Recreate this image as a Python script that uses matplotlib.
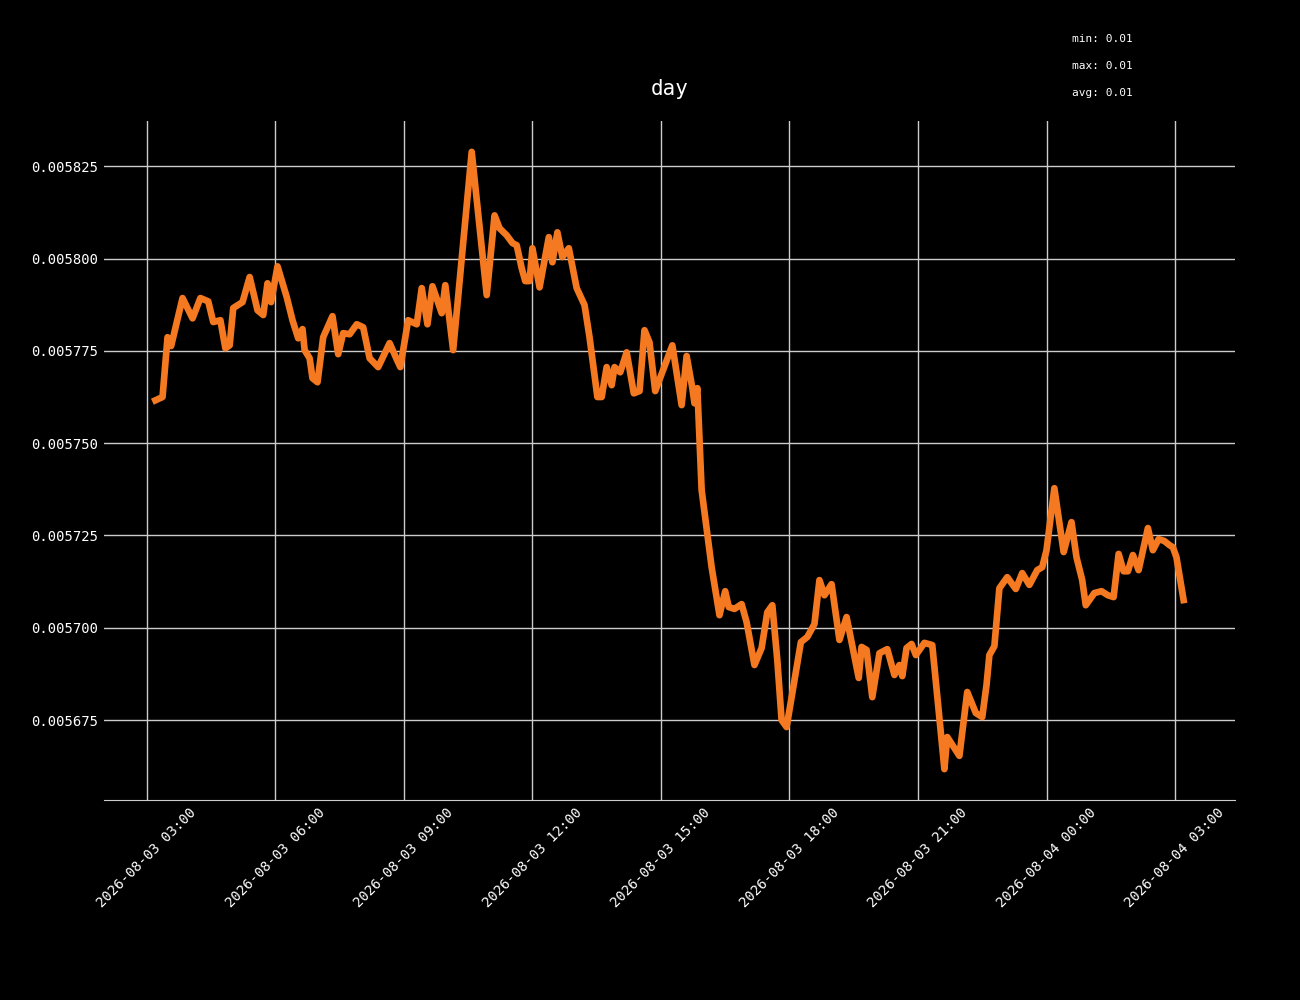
import matplotlib
matplotlib.use('Agg')
import matplotlib.pyplot as plt
import matplotlib.dates as mdates
from matplotlib.ticker import MultipleLocator, FormatStrFormatter
import pandas as pd

start = pd.Timestamp('2026-08-03 03:12')

# minutes after start, price
minutes = [0, 10, 17, 22, 38, 52, 63, 74, 81, 91, 98, 104, 109, 122, 132, 143, 151, 157, 162, 171,
           184, 192, 200, 206, 209, 216, 220, 227, 235, 248, 256, 263, 272, 282, 291, 300, 312, 328,
           338, 343, 354, 366, 373, 381, 388, 401, 406, 417, 443, 464, 475, 482, 492, 500, 506, 513,
           518, 524, 528, 538, 551, 556, 563, 570, 579, 590, 601, 608, 619, 625, 632, 639, 643, 651,
           660, 670, 678, 685, 692, 700, 724, 737, 744, 752, 755, 759, 765, 779, 790, 798, 803, 811,
           821, 828, 839, 849, 857, 864, 871, 877, 884, 904, 913, 923, 930, 937, 947, 958, 968, 985,
           989, 996, 1004, 1014, 1025, 1035, 1042, 1046, 1052, 1059, 1065, 1077, 1088, 1105, 1109,
           1118, 1126, 1137, 1149, 1158, 1164, 1168, 1175, 1182, 1193, 1205, 1214, 1224, 1235, 1242,
           1248, 1259, 1272, 1283, 1290, 1298, 1303, 1315, 1325, 1334, 1342, 1349, 1356, 1362, 1369,
           1377, 1390, 1397, 1405, 1413, 1420, 1425, 1430, 1440]
prices = [5761.6, 5762.5, 5778.7, 5776.3, 5789.3, 5783.8, 5789.3, 5788.4, 5782.8, 5783.3, 5775.7,
          5776.5, 5786.6, 5788.2, 5795.0, 5786.0, 5784.7, 5793.3, 5788.2, 5797.9, 5789.5, 5783.3,
          5778.4, 5780.9, 5775.2, 5773.0, 5767.6, 5766.5, 5778.7, 5784.4, 5774.1, 5779.8, 5779.5,
          5782.2, 5781.4, 5773.0, 5770.6, 5777.1, 5772.7, 5770.6, 5783.3, 5782.2, 5792.0, 5782.2,
          5792.5, 5785.2, 5792.8, 5775.2, 5828.9, 5790.1, 5811.7, 5808.2, 5806.3, 5804.2, 5803.6,
          5797.4, 5793.9, 5793.9, 5802.8, 5792.2, 5805.8, 5799.0, 5807.1, 5800.4, 5802.8, 5792.0,
          5787.4, 5778.7, 5762.5, 5762.5, 5770.6, 5765.7, 5770.6, 5769.2, 5774.6, 5763.5, 5764.1,
          5780.6, 5777.3, 5764.1, 5776.5, 5760.3, 5773.6, 5764.9, 5760.8, 5764.9, 5737.3, 5716.4,
          5703.4, 5709.9, 5705.6, 5705.1, 5706.4, 5701.5, 5689.9, 5694.5, 5704.2, 5706.1, 5691.2,
          5675.0, 5673.1, 5696.1, 5697.5, 5701.0, 5712.9, 5708.8, 5711.8, 5696.7, 5702.9, 5686.4,
          5694.8, 5694.0, 5681.2, 5693.1, 5694.2, 5687.2, 5689.9, 5686.9, 5694.5, 5695.6, 5692.6,
          5695.9, 5695.3, 5661.7, 5670.4, 5667.7, 5665.3, 5682.6, 5676.9, 5675.8, 5684.5, 5692.6,
          5695.0, 5710.7, 5713.7, 5710.5, 5714.8, 5711.6, 5715.6, 5716.4, 5721.0, 5737.8, 5720.5,
          5728.6, 5719.1, 5712.9, 5706.1, 5709.4, 5709.9, 5708.8, 5708.3, 5720.0, 5715.3, 5715.3,
          5719.7, 5715.6, 5727.0, 5721.0, 5724.0, 5723.5, 5722.4, 5721.8, 5719.1, 5707.5]

times = [start + pd.Timedelta(minutes=m) for m in minutes]
values = [p * 1e-6 for p in prices]

plt.rcParams['font.family'] = 'DejaVu Sans Mono'

fig = plt.figure(figsize=(13, 10), dpi=100, facecolor='black')
ax = fig.add_axes([0.08, 0.2, 0.87, 0.679])
ax.set_facecolor('black')

ax.plot(times, values, color='#f47920', linewidth=4.8)

ax.grid(True, color='#cccccc', linewidth=1)
ax.set_axisbelow(True)
for s in ['left', 'right', 'top']:
    ax.spines[s].set_visible(False)
ax.spines['bottom'].set_color('#cccccc')

ax.xaxis.set_major_locator(mdates.HourLocator(byhour=range(0, 24, 3)))
ax.xaxis.set_major_formatter(mdates.DateFormatter('%Y-%m-%d %H:%M'))
ax.yaxis.set_major_locator(MultipleLocator(0.000025))
ax.yaxis.set_major_formatter(FormatStrFormatter('%.6f'))
ax.tick_params(colors='white', length=0, labelsize=10, pad=4)
plt.setp(ax.get_xticklabels(), rotation=45, ha='center')

ax.set_title('day', color='white', fontsize=15, pad=19)

fig.text(0.825, 0.958, 'min: 0.01', color='white', fontsize=8)
fig.text(0.825, 0.931, 'max: 0.01', color='white', fontsize=8)
fig.text(0.825, 0.904, 'avg: 0.01', color='white', fontsize=8)

fig.savefig('out.png', facecolor='black')
